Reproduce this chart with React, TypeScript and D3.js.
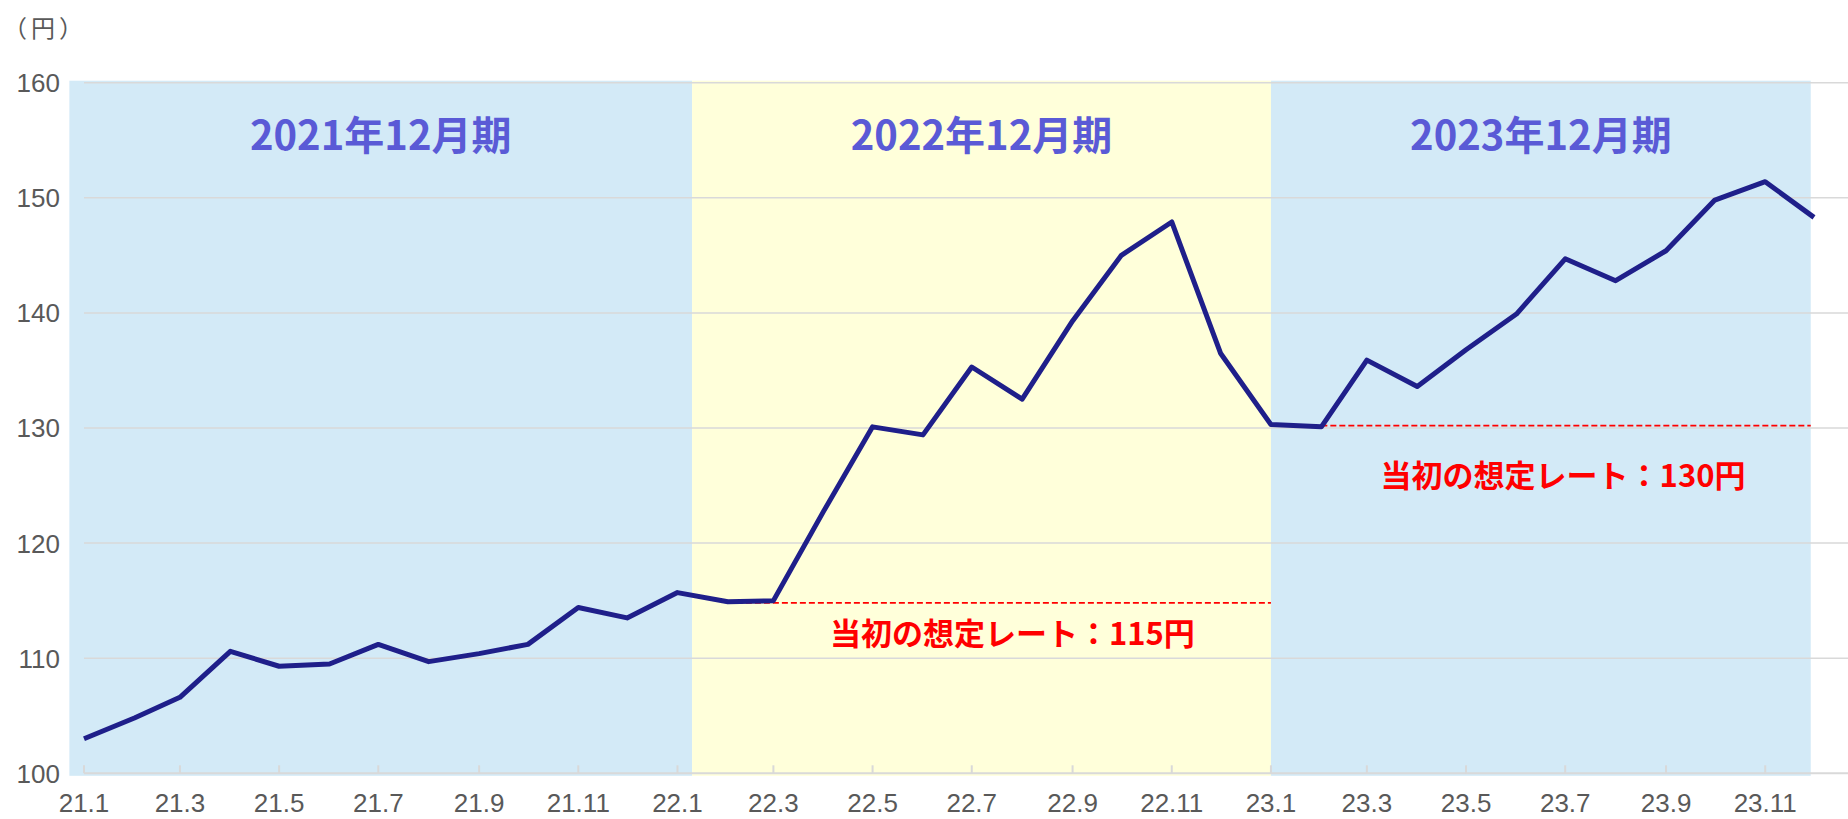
import React, { useEffect, useRef } from 'react';
import * as d3 from 'd3';

// 月次の平均レート (円/ドル)
const months = [
  '2021-01', '2021-02', '2021-03', '2021-04', '2021-05', '2021-06',
  '2021-07', '2021-08', '2021-09', '2021-10', '2021-11', '2021-12',
  '2022-01', '2022-02', '2022-03', '2022-04', '2022-05', '2022-06',
  '2022-07', '2022-08', '2022-09', '2022-10', '2022-11', '2022-12',
  '2023-01', '2023-02', '2023-03', '2023-04', '2023-05', '2023-06',
  '2023-07', '2023-08', '2023-09', '2023-10', '2023-11', '2023-12',
];
const rates = [
  103.0, 104.8, 106.6, 110.6, 109.3, 109.5, 111.2, 109.7, 110.4, 111.2, 114.4, 113.5,
  115.7, 114.9, 115.0, 122.8, 130.1, 129.4, 135.3, 132.5, 139.3, 145.0, 147.9, 136.5,
  130.3, 130.1, 135.9, 133.6, 136.8, 139.9, 144.7, 142.8, 145.4, 149.8, 151.4, 148.3,
];

const tickMonths = [
  '2021-01', '2021-03', '2021-05', '2021-07', '2021-09', '2021-11',
  '2022-01', '2022-03', '2022-05', '2022-07', '2022-09', '2022-11',
  '2023-01', '2023-03', '2023-05', '2023-07', '2023-09', '2023-11',
];
const tickLabels = [
  '21.1', '21.3', '21.5', '21.7', '21.9', '21.11',
  '22.1', '22.3', '22.5', '22.7', '22.9', '22.11',
  '23.1', '23.3', '23.5', '23.7', '23.9', '23.11',
];
const yTicks = [100, 110, 120, 130, 140, 150, 160];

// 決算期ごとの背景
const periodLabels = ['2021年12月期', '2022年12月期', '2023年12月期'];
const periodStarts = ['2020-12-23', '2022-01-10', '2023-01-01'];
const periodEnds = ['2022-01-10', '2023-01-01', '2023-11-29'];

// 当初の想定レート
const refLabels = ['当初の想定レート：115円', '当初の想定レート：130円'];
const refValues = [114.8, 130.2];
const refStarts = ['2022-02-01', '2023-02-01'];
const refEnds = ['2023-01-01', '2023-11-29'];

const W = 1848;
const H = 819;
const JP = '"Noto Sans CJK JP", "Noto Sans", sans-serif';
const LATIN = '"Liberation Sans", Arial, sans-serif';
const bandColors = ['#d3eaf7', '#ffffda', '#d3eaf7'];

const App = () => {
  const svgRef = useRef(null);

  useEffect(() => {
    document.body.style.margin = '0';
    const parse = (s: string) => new Date(s.length === 7 ? s + '-01T00:00:00' : s + 'T00:00:00');

    const x = d3.scaleTime()
      .domain([parse('2021-01'), parse('2023-12')])
      .range([84, 1814]);
    const y = d3.scaleLinear().domain([100, 160]).range([773.3, 82.7]);

    const svg = d3.select(svgRef.current);
    svg.selectAll('*').remove();

    // 背景
    svg.append('g')
      .selectAll('rect')
      .data(periodLabels)
      .enter()
      .append('rect')
      .attr('x', (d, i) => x(parse(periodStarts[i])))
      .attr('width', (d, i) => x(parse(periodEnds[i])) - x(parse(periodStarts[i])))
      .attr('y', y(160) - 2)
      .attr('height', y(100) - y(160) + 4.5)
      .style('fill', (d, i) => bandColors[i]);

    // グリッド
    svg.append('g')
      .selectAll('line')
      .data(yTicks.slice(1))
      .enter()
      .append('line')
      .attr('x1', 84)
      .attr('x2', W)
      .attr('y1', d => y(d))
      .attr('y2', d => y(d))
      .style('stroke', '#d9d9d9')
      .style('stroke-width', 1.5);

    svg.append('line')
      .attr('x1', 84).attr('x2', W)
      .attr('y1', y(100)).attr('y2', y(100))
      .style('stroke', '#d9d9d9')
      .style('stroke-width', 2);

    svg.append('g')
      .selectAll('line')
      .data(tickMonths)
      .enter()
      .append('line')
      .attr('x1', d => x(parse(d)))
      .attr('x2', d => x(parse(d)))
      .attr('y1', y(100))
      .attr('y2', y(100) - 8)
      .style('stroke', '#d9d9d9')
      .style('stroke-width', 2);

    // 軸ラベル
    svg.append('g')
      .selectAll('text')
      .data(tickMonths)
      .enter()
      .append('text')
      .attr('x', d => x(parse(d)))
      .attr('y', 812)
      .attr('text-anchor', 'middle')
      .style('font-family', LATIN)
      .style('font-size', '26px')
      .style('fill', '#595959')
      .text((d, i) => tickLabels[i]);

    svg.append('g')
      .selectAll('text')
      .data(yTicks)
      .enter()
      .append('text')
      .attr('x', 60)
      .attr('y', d => y(d) + 9.4)
      .attr('text-anchor', 'end')
      .style('font-family', LATIN)
      .style('font-size', '26px')
      .style('fill', '#595959')
      .text(d => d);

    svg.append('text')
      .attr('x', 3)
      .attr('y', 37)
      .style('font-family', JP)
      .style('font-size', '24px')
      .style('letter-spacing', '4px')
      .style('fill', '#595959')
      .text('（円）');

    // 期のタイトル
    svg.append('g')
      .selectAll('text')
      .data(periodLabels)
      .enter()
      .append('text')
      .attr('x', (d, i) => (x(parse(periodStarts[i])) + x(parse(periodEnds[i]))) / 2)
      .attr('y', 150)
      .attr('text-anchor', 'middle')
      .style('font-family', JP)
      .style('font-weight', 'bold')
      .style('font-size', '40px')
      .style('fill', '#5a5ad6')
      .text(d => d);

    // 想定レート
    svg.append('g')
      .selectAll('line')
      .data(refValues)
      .enter()
      .append('line')
      .attr('x1', (d, i) => x(parse(refStarts[i])))
      .attr('x2', (d, i) => x(parse(refEnds[i])))
      .attr('y1', d => y(d))
      .attr('y2', d => y(d))
      .style('stroke', '#ff0000')
      .style('stroke-width', 1.8)
      .style('stroke-dasharray', '6 3');

    const refDx = [13, -3];
    const refDy = [42, 61];
    svg.append('g')
      .selectAll('text')
      .data(refLabels)
      .enter()
      .append('text')
      .attr('x', (d, i) => (x(parse(refStarts[i])) + x(parse(refEnds[i]))) / 2 + refDx[i])
      .attr('y', (d, i) => y(refValues[i]) + refDy[i])
      .attr('text-anchor', 'middle')
      .style('font-family', JP)
      .style('font-weight', 'bold')
      .style('font-size', '31px')
      .style('fill', '#ff0000')
      .text(d => d);

    // 為替レートの折れ線
    const line = d3.line<number>()
      .x((d, i) => x(parse(months[i])))
      .y(d => y(d));

    svg.append('path')
      .datum(rates)
      .attr('d', line)
      .style('fill', 'none')
      .style('stroke', '#1f1f8a')
      .style('stroke-width', 5)
      .style('stroke-linejoin', 'round');
  }, []);

  return <svg ref={svgRef} width={W} height={H} style={{ display: 'block' }} />;
};

export default App;
